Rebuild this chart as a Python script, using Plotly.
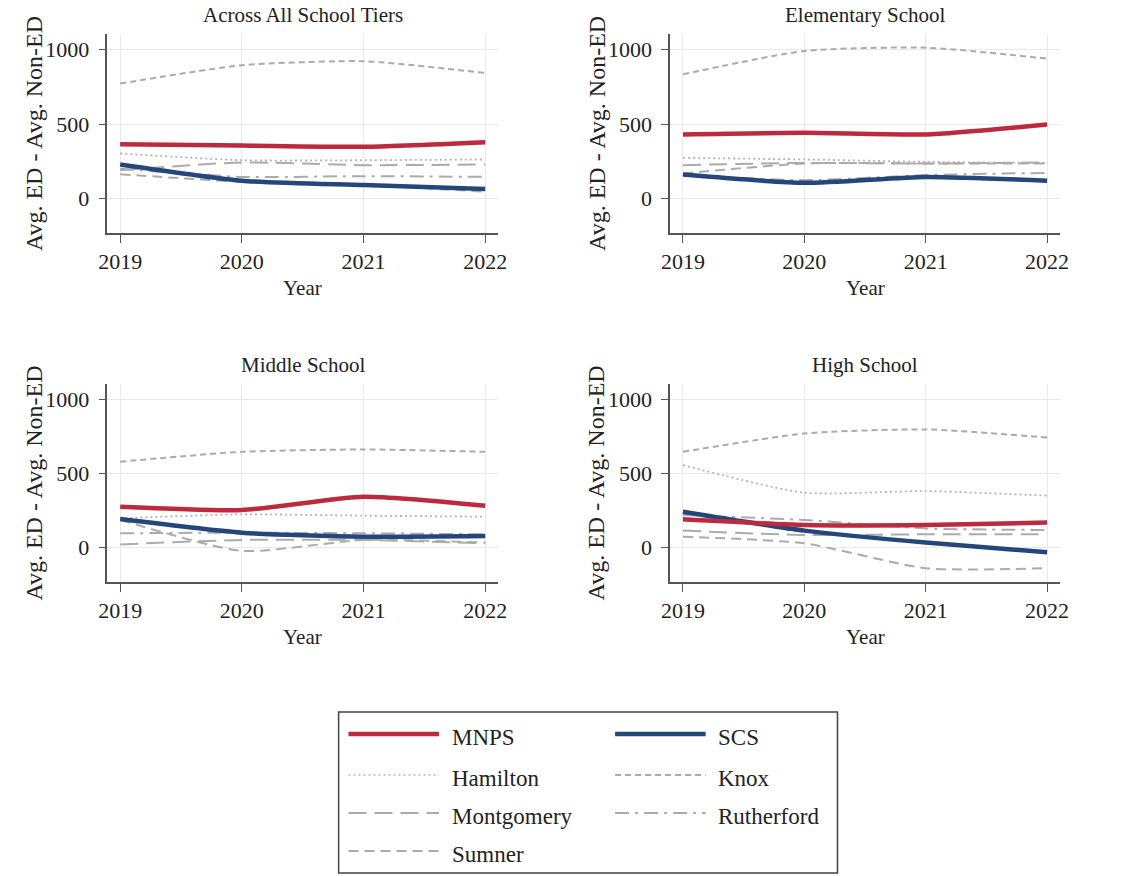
import plotly.graph_objects as go

W, H = 1121, 876

years = [2019, 2020, 2021, 2022]
panel_titles = ["Across All School Tiers", "Elementary School", "Middle School", "High School"]
y_ticks = [0, 500, 1000]

# values per panel: [All tiers, Elementary, Middle, High]
mnps = [[365, 356, 347, 378], [430, 441, 430, 497], [276, 254, 344, 283], [191, 153, 153, 169]]
scs = [[228, 119, 90, 63], [161, 105, 145, 119], [193, 101, 74, 79], [243, 115, 34, -31]]
hamilton = [[302, 257, 257, 262], [273, 262, 246, 239], [198, 225, 216, 209], [557, 371, 382, 351]]
knox = [[772, 895, 922, 843], [834, 991, 1013, 940], [580, 647, 663, 647], [647, 771, 798, 744]]
montgomery = [[190, 242, 224, 228], [224, 239, 235, 242], [22, 52, 52, 29], [115, 85, 90, 90]]
rutherford = [[200, 145, 150, 145], [157, 123, 157, 172], [97, 101, 97, 90], [220, 187, 130, 119]]
sumner = [[163, 112, 90, 45], [168, 235, 235, 235], [187, -22, 52, 34], [74, 29, -139, -139]]

FONT = "Liberation Serif"
RED = "#bb2a3e"
NAVY = "#25467a"
GRAY = "#ababab"

series = [
    ("Hamilton", hamilton, dict(color="#b4b4b4", width=1.8, dash="2px,3px")),
    ("Knox", knox, dict(color=GRAY, width=2, dash="6px,4px")),
    ("Montgomery", montgomery, dict(color=GRAY, width=2, dash="18px,8px")),
    ("Rutherford", rutherford, dict(color=GRAY, width=2, dash="14px,6px,3px,6px")),
    ("Sumner", sumner, dict(color=GRAY, width=2, dash="10px,6px")),
    ("SCS", scs, dict(color=NAVY, width=4.5)),
    ("MNPS", mnps, dict(color=RED, width=4.5)),
]
legend_order = ["MNPS", "SCS", "Hamilton", "Knox", "Montgomery", "Rutherford", "Sumner"]

# panel pixel boxes (left, right, top, bottom)
boxes = [(100, 497, 34, 233), (672, 1068, 34, 233), (100, 497, 384, 582), (672, 1068, 384, 582)]

fig = go.Figure()
layout = dict(
    width=W, height=H, margin=dict(l=0, r=0, t=0, b=0),
    paper_bgcolor="white", plot_bgcolor="white", showlegend=False,
    font=dict(family=FONT, size=21, color="#222"),
)
annotations = []
shapes = []

for i, (l, r, t, b) in enumerate(boxes):
    sfx = "" if i == 0 else str(i + 1)
    xa, ya = "x" + sfx, "y" + sfx
    for name, data, line in series:
        fig.add_trace(go.Scatter(
            x=years, y=data[i], mode="lines", name=name,
            line=dict(shape="spline", smoothing=0.6, **line),
            xaxis=xa, yaxis=ya, showlegend=False, hoverinfo="skip"))
    layout["xaxis" + sfx] = dict(
        domain=[l / W, r / W], anchor=ya, range=[2018.895, 2022.105],
        tickvals=years, ticktext=[str(y) for y in years],
        showgrid=True, gridcolor="#e9e9e9", gridwidth=1,
        showline=True, linecolor="#555", linewidth=1.5,
        ticks="outside", ticklen=8, tickcolor="#555", tickwidth=1.2,
        tickfont=dict(family=FONT, size=22, color="#222"), zeroline=False)
    layout["yaxis" + sfx] = dict(
        domain=[1 - b / H, 1 - t / H], anchor=xa, range=[-232, 1105],
        tickvals=y_ticks, ticktext=[str(v) for v in y_ticks],
        showgrid=True, gridcolor="#e9e9e9", gridwidth=1,
        showline=True, linecolor="#555", linewidth=1.5,
        ticks="outside", ticklen=7, tickcolor="#555", tickwidth=1.2,
        ticklabelstandoff=5,
        tickfont=dict(family=FONT, size=22, color="#222"), zeroline=False)
    cx = (l + r) / 2
    annotations.append(dict(text=panel_titles[i], x=cx / W, y=1 - (t - 19) / H, xref="paper", yref="paper",
                            showarrow=False, font=dict(family=FONT, size=21, color="#222"),
                            xanchor="center", yanchor="middle"))
    annotations.append(dict(text="Year", x=cx / W, y=1 - (b + 55) / H, xref="paper", yref="paper",
                            showarrow=False, font=dict(family=FONT, size=21, color="#222"),
                            xanchor="center", yanchor="middle"))
    annotations.append(dict(text="Avg. ED - Avg. Non-ED", x=(l - 75) / W, y=1 - ((t + b) / 2) / H,
                            xref="paper", yref="paper", textangle=-90, showarrow=False,
                            font=dict(family=FONT, size=24, color="#222"),
                            xanchor="center", yanchor="middle"))

# custom legend (2 columns)
style = {name: line for name, _, line in series}
shapes.append(dict(type="rect", xref="paper", yref="paper", x0=335 / W, x1=842 / W,
                   y0=1 - 873 / H, y1=1 - 712 / H, line=dict(color="#444", width=1.5),
                   fillcolor="rgba(0,0,0,0)"))
row_y = [737, 778, 816, 854]
col_x = [(345, 437, 448), (616, 708, 719)]
for k, name in enumerate(legend_order):
    row, col = divmod(k, 2)
    x0, x1, xt = col_x[col]
    yy = row_y[row]
    st = dict(style[name])
    if name == "Hamilton":
        st["color"] = "#c8c8c8"
    shapes.append(dict(type="line", xref="paper", yref="paper", x0=x0 / W, x1=x1 / W,
                       y0=1 - (yy - 3) / H, y1=1 - (yy - 3) / H,
                       line=dict(color=st["color"], width=st["width"], dash=st.get("dash", "solid"))))
    annotations.append(dict(text=name, x=xt / W, y=1 - yy / H, xref="paper", yref="paper",
                            showarrow=False, xanchor="left", yanchor="middle",
                            font=dict(family=FONT, size=23, color="#222")))

layout["annotations"] = annotations
layout["shapes"] = shapes
fig.update_layout(**layout)
fig.write_html("out.html")
